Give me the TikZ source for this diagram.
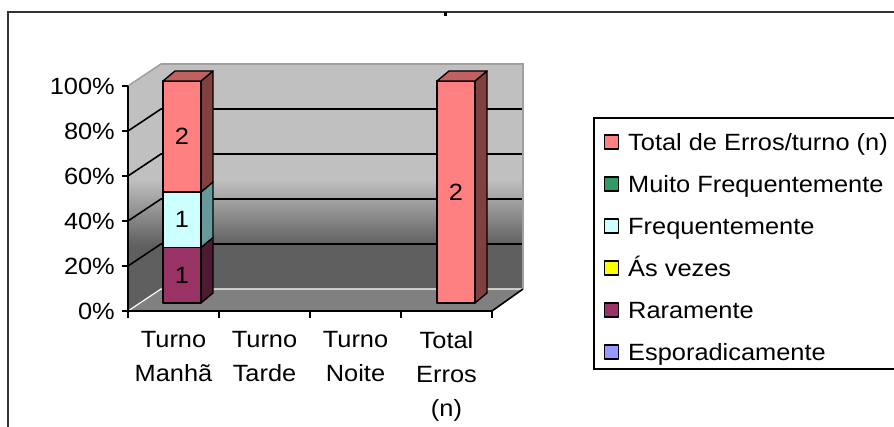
\documentclass[tikz,border=0pt]{standalone}
\usepackage{fontspec}
\setmainfont[FakeStretch=1.08]{Liberation Sans}
\usepackage{tikz}
\usetikzlibrary{calc}

\definecolor{wallLight}{HTML}{C0C0C0}
\definecolor{wallDark}{HTML}{5F5F5F}
\definecolor{floorGray}{HTML}{808080}
\definecolor{edgeGray}{HTML}{A0A0A0}
\definecolor{totalF}{HTML}{FF8080}
\definecolor{totalS}{HTML}{804040}
\definecolor{totalT}{HTML}{C06060}
\definecolor{freqF}{HTML}{CCFFFF}
\definecolor{freqS}{HTML}{669999}
\definecolor{rarF}{HTML}{993366}
\definecolor{rarS}{HTML}{4D1A33}
\definecolor{muitoF}{HTML}{339966}
\definecolor{asvF}{HTML}{FFFF00}
\definecolor{espoF}{HTML}{9999FF}

\tikzset{
  chartfont/.style={font=\fontsize{23.5}{34}\selectfont},
  gridline/.style={black, line width=1.6pt},
  boxline/.style={draw=black, line width=1.4pt, line join=round},
  legbox/.style={boxline, minimum size=14pt, inner sep=0pt},
}

% one segment of a bar: x0, x1, ybottom, ytop, front colour, side colour
\newcommand{\barpiece}[6]{%
  \filldraw[fill=#6, boxline] (#2,#3) -- (#2+12,#3-10) -- (#2+12,#4-10) -- (#2,#4) -- cycle;
  \filldraw[fill=#5, boxline] (#1,#3) rectangle (#2,#4);
}
% top face of a bar: x0, x1, ytop, colour
\newcommand{\bartop}[4]{%
  \filldraw[fill=#4, boxline] (#1,#3) -- (#1+12,#3-10) -- (#2+12,#3-10) -- (#2,#3) -- cycle;
}

\begin{document}
\begin{tikzpicture}[x=1pt, y=-1pt, chartfont]
\useasboundingbox (0,0) rectangle (894,427);

% outer frame
\draw[black!80, line width=1.5pt] (8,427) -- (8,12) -- (894,12);
\fill[black] (444,12) rectangle (447,16);

% walls
\begin{scope}
  \clip (128,311) -- (128,86) -- (161,64) -- (523,64) -- (523,289) -- (161,289) -- cycle;
  \fill[wallLight] (100,40) rectangle (530,180);
  \shade[top color=wallLight, bottom color=wallDark] (100,179.5) rectangle (530,245.5);
  \fill[wallDark] (100,245) rectangle (530,320);
\end{scope}
\fill[floorGray] (128,311) -- (161,289) -- (523,289) -- (492,311) -- cycle;

% grid
\foreach \p in {1,...,4}
  \draw[gridline] (128,311-45*\p) -- (161,289-45*\p) -- (523,289-45*\p);
\draw[edgeGray, line width=1.6pt] (128,86) -- (161,64) -- (523,64) -- (523,289);
\draw[white, line width=1.2pt] (128,311) -- (161,289) -- (523,289);

% axes
\draw[gridline] (128,86) -- (128,311) -- (492,311) -- (523,289);
\foreach \p in {0,...,5} {
  \draw[gridline] (122,311-45*\p) -- (128,311-45*\p);
  \node[anchor=east, inner sep=0pt] (ylab\p) at (115,311-45*\p) {\the\numexpr20*\p\relax\%};
}
\foreach \i in {0,...,4}
  \draw[gridline] (128+91*\i,311) -- (128+91*\i,318);

\node[anchor=north, align=center, inner sep=0pt] (catManha) at (173.5,331) {Turno\\Manhã};
\node[anchor=north, align=center, inner sep=0pt] (catTarde) at (264.5,331) {Turno\\Tarde};
\node[anchor=north, align=center, inner sep=0pt] (catNoite) at (355.5,331) {Turno\\Noite};
\node[anchor=north, align=center, inner sep=0pt] (catTotal) at (446.5,331) {Total\\Erros\\(n)};

% bar: Turno Manha
\barpiece{163}{201}{303}{247.5}{rarF}{rarS}
\barpiece{163}{201}{247.5}{192}{freqF}{freqS}
\barpiece{163}{201}{192}{81}{totalF}{totalS}
\bartop{163}{201}{81}{totalT}
\node (valRar) at (182,275) {1};
\node (valFreq) at (182,219.5) {1};
\node (valTotA) at (182,136) {2};

% bar: Total Erros
\barpiece{437}{475}{303}{81}{totalF}{totalS}
\bartop{437}{475}{81}{totalT}
\node (valTotB) at (456,192) {2};

% legend
\draw[black, line width=1.5pt] (594,118) rectangle (900,369);
\foreach \c/\t [count=\k from 0] in {totalF/{Total de Erros/turno (n)}, muitoF/{Muito Frequentemente},
    freqF/{Frequentemente}, asvF/{Ás vezes}, rarF/{Raramente}, espoF/{Esporadicamente}} {
  \node[legbox, fill=\c] (legkey\k) at (611.5,142+42*\k) {};
  \node[anchor=base west, inner sep=0pt] (legtxt\k) at (628,150.5+42*\k) {\t};
}
\end{tikzpicture}
\end{document}
